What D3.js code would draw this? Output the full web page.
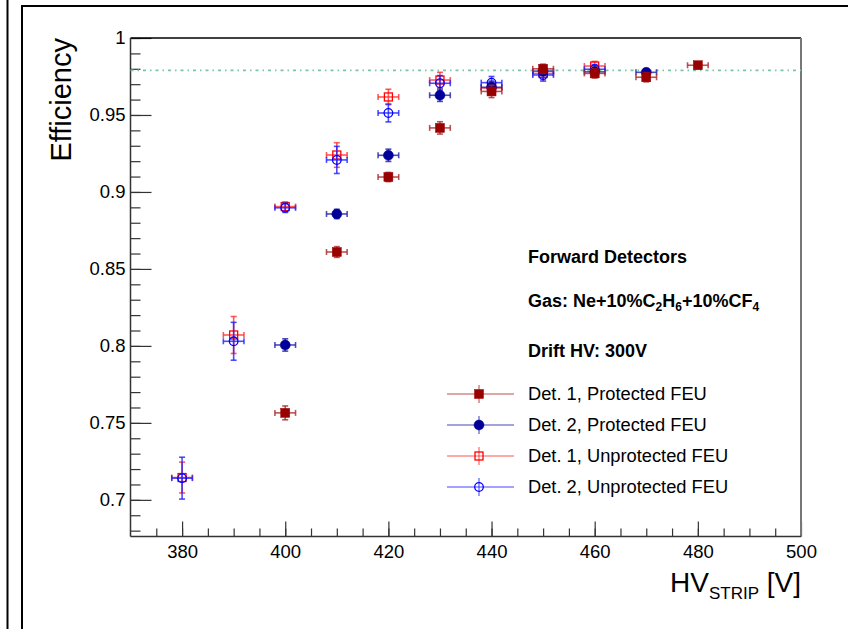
<!DOCTYPE html>
<html>
<head>
<meta charset="utf-8">
<script src="https://cdn.jsdelivr.net/npm/d3@7"></script>
<style>
  body { margin: 0; background: #fff; }
  svg { font-family: "Liberation Sans", Arial, sans-serif; }
</style>
</head>
<body>
<div id="chart"></div>
<script>
// dades llegides de la figura
const seriesNames = ["Det. 1, Protected FEU", "Det. 2, Protected FEU", "Det. 1, Unprotected FEU", "Det. 2, Unprotected FEU"];

const det1ProtHV  = [400, 410, 420, 430, 440, 450, 460, 470, 480];
const det1ProtEff = [0.7565, 0.861, 0.9097, 0.9416, 0.9653, 0.9800, 0.9770, 0.9745, 0.9823];
const det1ProtErr = [0.0045, 0.0035, 0.003, 0.004, 0.004, 0.003, 0.003, 0.003, 0.002];

const det2ProtHV  = [400, 410, 420, 430, 440, 450, 460, 470];
const det2ProtEff = [0.8006, 0.8857, 0.9238, 0.9628, 0.9680, 0.9785, 0.9780, 0.9777];
const det2ProtErr = [0.004, 0.003, 0.004, 0.004, 0.004, 0.003, 0.003, 0.002];

const det1UnprotHV  = [380, 390, 400, 410, 420, 430, 440, 450, 460];
const det1UnprotEff = [0.7145, 0.8071, 0.8905, 0.9240, 0.9617, 0.9727, 0.9675, 0.9770, 0.9818];
const det1UnprotErr = [0.010, 0.012, 0.003, 0.008, 0.005, 0.005, 0.004, 0.004, 0.003];

const det2UnprotHV  = [380, 390, 400, 410, 420, 430, 440, 450, 460];
const det2UnprotEff = [0.7141, 0.8030, 0.8897, 0.9208, 0.9513, 0.9706, 0.9710, 0.9760, 0.9797];
const det2UnprotErr = [0.0136, 0.0123, 0.003, 0.0088, 0.0058, 0.005, 0.004, 0.004, 0.003];

const hvErr = 2;
const refLine = 0.979;

const xTicks = [380, 400, 420, 440, 460, 480, 500];
const yTicks = [0.7, 0.75, 0.8, 0.85, 0.9, 0.95, 1];
const infoLines = ["Forward Detectors", "Gas: Ne+10%C2H6+10%CF4", "Drift HV: 300V"];

// dimensions
const W = 848, H = 629;
const plot = {left: 130.5, right: 801, top: 38, bottom: 536.5};

const svg = d3.select("#chart").append("svg")
    .attr("width", W).attr("height", H);

// marcs exteriors
svg.append("line").attr("x1", 7.5).attr("x2", 7.5).attr("y1", 0).attr("y2", H)
    .attr("stroke", "#000").attr("stroke-width", 2);
svg.append("line").attr("x1", 22).attr("x2", 22).attr("y1", 5).attr("y2", H)
    .attr("stroke", "#000").attr("stroke-width", 2);
svg.append("line").attr("x1", 21).attr("x2", W).attr("y1", 6).attr("y2", 6)
    .attr("stroke", "#000").attr("stroke-width", 2);

// escales
const x = d3.scaleLinear().domain([370, 500]).range([plot.left, plot.right]);
const y = d3.scaleLinear().domain([0.6762, 1]).range([plot.bottom, plot.top]);

// eixos
const axisColor = "#333";
const yMinor = d3.range(0.68, 1.0001, 0.01);
const xMinor = d3.range(375, 500, 5);

const gy = svg.append("g").attr("transform", `translate(${plot.left},0)`);
gy.call(d3.axisLeft(y).tickValues(yMinor).tickSize(-10).tickFormat("").tickSizeOuter(0));
gy.append("g").call(d3.axisLeft(y).tickValues(yTicks).tickSize(-21).tickPadding(5)
    .tickSizeOuter(0).tickFormat(d => d === 1 ? "1" : d3.format("")(d)));
gy.selectAll(".domain").remove();
gy.selectAll("line").attr("stroke", axisColor).attr("stroke-width", 1.2);
gy.selectAll("text").attr("fill", "#000").style("font-size", "18.5px")
    .style("font-family", "Liberation Sans, Arial, sans-serif");

const gx = svg.append("g").attr("transform", `translate(0,${plot.bottom})`);
gx.call(d3.axisBottom(x).tickValues(xMinor).tickSize(-8).tickFormat("").tickSizeOuter(0));
gx.append("g").call(d3.axisBottom(x).tickValues(xTicks).tickSize(-15).tickPadding(8).tickSizeOuter(0));
gx.selectAll(".domain").remove();
gx.selectAll("line").attr("stroke", axisColor).attr("stroke-width", 1.2);
gx.selectAll("text").attr("fill", "#000").style("font-size", "18.5px")
    .style("font-family", "Liberation Sans, Arial, sans-serif");

// marc del gràfic
svg.append("line").attr("x1", plot.left).attr("x2", plot.right).attr("y1", plot.top).attr("y2", plot.top)
    .attr("stroke", "#000").attr("stroke-width", 1.5);
svg.append("line").attr("x1", plot.right).attr("x2", plot.right).attr("y1", plot.top).attr("y2", plot.bottom)
    .attr("stroke", "#777").attr("stroke-width", 2);
svg.append("line").attr("x1", plot.left).attr("x2", plot.left).attr("y1", plot.top).attr("y2", plot.bottom)
    .attr("stroke", axisColor).attr("stroke-width", 1.5);
svg.append("line").attr("x1", plot.left).attr("x2", plot.right).attr("y1", plot.bottom).attr("y2", plot.bottom)
    .attr("stroke", axisColor).attr("stroke-width", 1.5);

// línia de referència
svg.append("line")
    .attr("x1", plot.left).attr("x2", plot.right)
    .attr("y1", y(refLine)).attr("y2", y(refLine))
    .attr("stroke", "#7cc4a8").attr("stroke-width", 1.6)
    .attr("stroke-dasharray", "3,4,1.5,4");

// títols dels eixos
svg.append("text")
    .attr("transform", `translate(71,${plot.top}) rotate(-90)`)
    .attr("text-anchor", "end")
    .style("font-size", "29px")
    .text("Efficiency");

const xt = svg.append("text")
    .attr("x", plot.right).attr("y", 592)
    .attr("text-anchor", "end")
    .style("font-size", "28px");
xt.append("tspan").text("HV");
xt.append("tspan").attr("dy", 7).style("font-size", "17px").text("STRIP");
xt.append("tspan").attr("dy", -7).text(" [V]");

// series
const series = [
    {name: seriesNames[2], hv: det1UnprotHV, eff: det1UnprotEff, err: det1UnprotErr, color: "#ff0000", bar: "#ff3030", shape: "square", filled: false},
    {name: seriesNames[3], hv: det2UnprotHV, eff: det2UnprotEff, err: det2UnprotErr, color: "#0000ff", bar: "#2020ff", shape: "circle", filled: false},
    {name: seriesNames[1], hv: det2ProtHV, eff: det2ProtEff, err: det2ProtErr, color: "#000099", bar: "#2020a8", shape: "circle", filled: true},
    {name: seriesNames[0], hv: det1ProtHV, eff: det1ProtEff, err: det1ProtErr, color: "#990000", bar: "#aa2a2a", shape: "square", filled: true}
];

function drawMarker(g, s, cx, cy) {
    if (s.shape === "square") {
        const a = s.filled ? 9 : 8;
        g.append("rect")
            .attr("x", cx - a / 2).attr("y", cy - a / 2)
            .attr("width", a).attr("height", a)
            .attr("fill", s.filled ? s.color : "none")
            .attr("stroke", s.color).attr("stroke-width", s.filled ? 0.5 : 1.3);
    } else {
        g.append("circle")
            .attr("cx", cx).attr("cy", cy).attr("r", s.filled ? 5 : 4.3)
            .attr("fill", s.filled ? s.color : "none")
            .attr("stroke", s.color).attr("stroke-width", s.filled ? 0.5 : 1.3);
    }
}

series.forEach(function(s) {
    const g = svg.append("g").attr("class", "serie");
    const pts = s.hv.map((v, i) => ({hv: v, eff: s.eff[i], err: s.err[i]}));
    pts.forEach(function(d) {
        const cx = x(d.hv), cy = y(d.eff);
        const x0 = x(d.hv - hvErr), x1 = x(d.hv + hvErr);
        const y0 = y(d.eff - d.err), y1 = y(d.eff + d.err);
        const eg = g.append("g").attr("stroke", s.bar).attr("stroke-width", 1.6).attr("stroke-opacity", 0.8);
        eg.append("line").attr("x1", x0).attr("x2", x1).attr("y1", cy).attr("y2", cy);
        eg.append("line").attr("x1", cx).attr("x2", cx).attr("y1", y0).attr("y2", y1);
        eg.append("line").attr("x1", x0).attr("x2", x0).attr("y1", cy - 3).attr("y2", cy + 3);
        eg.append("line").attr("x1", x1).attr("x2", x1).attr("y1", cy - 3).attr("y2", cy + 3);
        eg.append("line").attr("x1", cx - 3).attr("x2", cx + 3).attr("y1", y0).attr("y2", y0);
        eg.append("line").attr("x1", cx - 3).attr("x2", cx + 3).attr("y1", y1).attr("y2", y1);
        drawMarker(g, s, cx, cy);
    });
});

// text informatiu
const info = svg.append("g").style("font-size", "18px").style("font-weight", "bold");
info.append("text").attr("x", 528).attr("y", 263).text(infoLines[0]);
const gas = info.append("text").attr("x", 528).attr("y", 307);
gas.append("tspan").text("Gas: Ne+10%C");
gas.append("tspan").attr("dy", 4).style("font-size", "12px").text("2");
gas.append("tspan").attr("dy", -4).text("H");
gas.append("tspan").attr("dy", 4).style("font-size", "12px").text("6");
gas.append("tspan").attr("dy", -4).text("+10%CF");
gas.append("tspan").attr("dy", 4).style("font-size", "12px").text("4");
info.append("text").attr("x", 528).attr("y", 357).text(infoLines[2]);

// llegenda
const legendOrder = [series[3], series[2], series[0], series[1]];
const legendY = d3.scalePoint().domain(seriesNames).range([394, 487]);
legendOrder.forEach(function(s) {
    const ly = legendY(s.name);
    const lg = svg.append("g");
    lg.append("line").attr("x1", 447).attr("x2", 514).attr("y1", ly).attr("y2", ly)
        .attr("stroke", s.bar).attr("stroke-width", 1.6).attr("stroke-opacity", 0.55);
    lg.append("line").attr("x1", 479).attr("x2", 479).attr("y1", ly - 9).attr("y2", ly + 9)
        .attr("stroke", s.bar).attr("stroke-width", 1.6).attr("stroke-opacity", 0.55);
    drawMarker(lg, s, 479, ly);
    lg.append("text").attr("x", 528).attr("y", ly + 6)
        .style("font-size", "18.3px").text(s.name);
});
</script>
</body>
</html>
